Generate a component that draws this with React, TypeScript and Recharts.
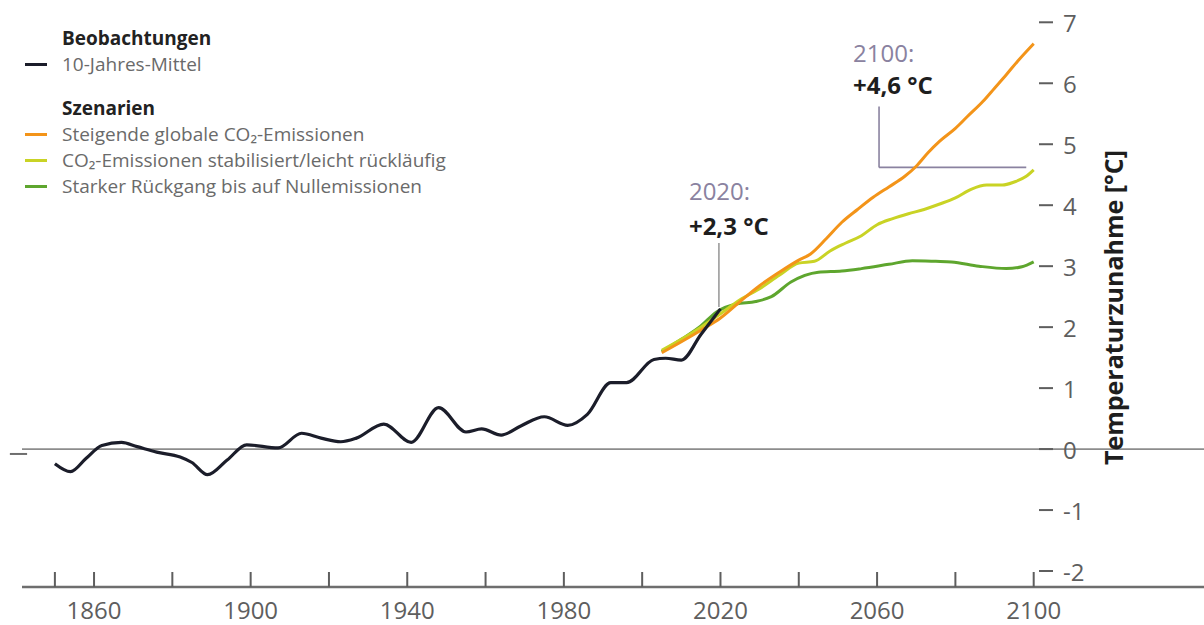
import React from "react";
import { LineChart, Line, XAxis, YAxis, ReferenceLine, Legend } from "recharts";

// Beobachtungen, 10-Jahres-Mittel (Abweichung in °C)
const obsYears = [
  1850, 1854, 1858, 1862, 1867, 1871, 1876, 1882, 1885, 1889, 1894, 1899,
  1907, 1913, 1918, 1923, 1927, 1934, 1941, 1948, 1955, 1959, 1964, 1969,
  1975, 1981, 1986, 1992, 1996, 2003, 2006, 2010, 2015, 2020,
];
const obsValues = [
  -0.24, -0.37, -0.15, 0.06, 0.11, 0.04, -0.05, -0.13, -0.22, -0.42, -0.18, 0.07,
  0.02, 0.26, 0.18, 0.12, 0.18, 0.41, 0.11, 0.68, 0.28, 0.33, 0.23, 0.38,
  0.53, 0.39, 0.57, 1.09, 1.09, 1.47, 1.49, 1.46, 1.88, 2.3,
];

// Szenarien
const highYears = [
  2005, 2010, 2015, 2020, 2025, 2030, 2035, 2040, 2043, 2047, 2051, 2055, 2059,
  2063, 2067, 2070, 2073, 2076, 2080, 2083, 2087, 2090, 2093, 2096, 2100,
];
const highValues = [
  1.58, 1.76, 1.95, 2.15, 2.42, 2.68, 2.9, 3.1, 3.2, 3.45, 3.72, 3.93, 4.13,
  4.3, 4.47, 4.64, 4.86, 5.05, 5.26, 5.45, 5.7, 5.92, 6.14, 6.37, 6.65,
];

const stableYears = [
  2005, 2010, 2015, 2020, 2025, 2030, 2035, 2040, 2044, 2048, 2052, 2056, 2060,
  2064, 2068, 2072, 2076, 2080, 2084, 2088, 2092, 2095, 2098, 2100,
];
const stableValues = [
  1.62, 1.8, 2.0, 2.22, 2.45, 2.63, 2.85, 3.05, 3.08, 3.25, 3.38, 3.5, 3.68,
  3.78, 3.86, 3.93, 4.02, 4.12, 4.26, 4.33, 4.33, 4.38, 4.47, 4.58,
];

const zeroYears = [
  2005, 2010, 2015, 2019, 2024, 2029, 2033, 2038, 2045, 2051, 2056, 2063, 2069,
  2075, 2079, 2086, 2093, 2097, 2100,
];
const zeroValues = [
  1.6, 1.8, 2.02, 2.25, 2.38, 2.42, 2.5, 2.74, 2.9, 2.92, 2.96, 3.03, 3.09,
  3.08, 3.07, 3.0, 2.96, 2.99, 3.07,
];

const xTicks = [1850, 1860, 1880, 1900, 1920, 1940, 1960, 1980, 2000, 2020, 2040, 2060, 2080, 2100];
const xLabelYears = [1860, 1900, 1940, 1980, 2020, 2060, 2100];
const yTicks = [-2, -1, 0, 1, 2, 3, 4, 5, 6, 7];

const legendHeadings = ["Beobachtungen", "Szenarien"];
const legendLabels = [
  "10-Jahres-Mittel",
  "Steigende globale CO₂-Emissionen",
  "CO₂-Emissionen stabilisiert/leicht rückläufig",
  "Starker Rückgang bis auf Nullemissionen",
];

const X_MIN = 1841.6;
const X_MAX = 2101.1;
const X_FAR = 2144.5;
const Y_MIN = -2.262;
const Y_MAX = 7.3;

const FONT = "'Open Sans', sans-serif";
const COLORS = {
  obs: "#1b1d2a",
  high: "#f39419",
  stable: "#c9d325",
  zero: "#5ea62e",
  tick: "#5e5e5e",
  callout: "#8a82a0",
};

const toPoints = (years: number[], values: number[]) =>
  years.map((year, i) => ({ year, value: values[i] }));

const observations = toPoints(obsYears, obsValues);
const highScenario = toPoints(highYears, highValues);
const stableScenario = toPoints(stableYears, stableValues);
const zeroScenario = toPoints(zeroYears, zeroValues);

function XTick({ x, y, payload }: any) {
  const year = payload.value;
  return (
    <g>
      <line x1={x} x2={x} y1={y - 15} y2={y} stroke={COLORS.tick} strokeWidth={2} />
      {xLabelYears.includes(year) && (
        <text
          x={x}
          y={y + 22}
          textAnchor="middle"
          dominantBaseline="central"
          fontSize={24}
          fontFamily={FONT}
          fill={COLORS.tick}
        >
          {year}
        </text>
      )}
    </g>
  );
}

function YTick({ x, y, payload }: any) {
  return (
    <g>
      <line x1={x + 1} x2={x + 15} y1={y} y2={y} stroke={COLORS.tick} strokeWidth={2} />
      <text
        x={x + 25}
        y={y}
        dominantBaseline="central"
        fontSize={24}
        fontFamily={FONT}
        fill={COLORS.tick}
      >
        {payload.value}
      </text>
    </g>
  );
}

function YLabel({ viewBox }: any) {
  const cx = viewBox.x + 75;
  const cy = viewBox.y + viewBox.height / 2 + 12;
  return (
    <text
      x={cx}
      y={cy}
      transform={`rotate(-90, ${cx}, ${cy})`}
      textAnchor="middle"
      dominantBaseline="central"
      fontSize={25}
      fontWeight={700}
      fontFamily={FONT}
      fill="#1e1e1e"
    >
      Temperaturzunahme [°C]
    </text>
  );
}

function Callout({ viewBox, title, value, dx, dy, gap }: any) {
  const x = viewBox.x + dx;
  const y = viewBox.y + dy;
  return (
    <g fontFamily={FONT}>
      <text x={x} y={y} dominantBaseline="central" fontSize={24} fill={COLORS.callout}>
        {title}
      </text>
      <text x={x} y={y + gap} dominantBaseline="central" fontSize={24} fontWeight={700} fill="#1e1e1e">
        {value}
      </text>
    </g>
  );
}

function LegendBox() {
  const heading = (text: string, top: number) => (
    <div
      key={text}
      style={{
        position: "absolute",
        left: 62,
        top: top - 13,
        lineHeight: "26px",
        fontSize: 19,
        fontWeight: 700,
        color: "#222",
        whiteSpace: "nowrap",
      }}
    >
      {text}
    </div>
  );
  const item = (text: string, color: string, top: number) => (
    <div key={text}>
      <div
        style={{
          position: "absolute",
          left: 25,
          top: top - 1.5,
          width: 22,
          height: 3,
          background: color,
        }}
      />
      <div
        style={{
          position: "absolute",
          left: 62,
          top: top - 13,
          lineHeight: "26px",
          fontSize: 19,
          color: "#6a6a6a",
          whiteSpace: "nowrap",
        }}
      >
        {text}
      </div>
    </div>
  );
  return (
    <div style={{ position: "relative", width: 480, height: 200, fontFamily: FONT }}>
      {heading(legendHeadings[0], 38)}
      {item(legendLabels[0], COLORS.obs, 64)}
      {heading(legendHeadings[1], 108)}
      {item(legendLabels[1], COLORS.high, 134)}
      {item(legendLabels[2], COLORS.stable, 160)}
      {item(legendLabels[3], COLORS.zero, 186)}
    </div>
  );
}

export default function App() {
  return (
    <div style={{ position: "absolute", left: 0, top: 0, background: "#fff" }}>
      <LineChart
        width={1204}
        height={625}
        margin={{ top: 4, right: 0, bottom: 0, left: 22 }}
        style={{ fontFamily: FONT }}
      >
        <XAxis
          type="number"
          dataKey="year"
          domain={[X_MIN, X_MAX]}
          ticks={xTicks}
          interval={0}
          allowDataOverflow
          axisLine={false}
          tickLine={false}
          tickSize={0}
          tickMargin={0}
          height={38}
          tick={<XTick />}
        />
        <YAxis
          type="number"
          orientation="right"
          domain={[Y_MIN, Y_MAX]}
          ticks={yTicks}
          interval={0}
          allowDataOverflow
          axisLine={false}
          tickLine={false}
          tickSize={0}
          tickMargin={0}
          width={166}
          tick={<YTick />}
          label={<YLabel />}
        />
        <Legend
          layout="vertical"
          align="center"
          verticalAlign="middle"
          content={() => <LegendBox />}
          wrapperStyle={{ position: "absolute", left: 0, top: 0, width: 480, height: 200 }}
        />
        {/* kleiner Strich links an der Nulllinie */}
        <ReferenceLine
          segment={[{ x: 1838.5, y: -0.08 }, { x: 1842.9, y: -0.08 }]}
          ifOverflow="visible"
          stroke="#6e6e6e"
          strokeWidth={2}
        />
        <ReferenceLine
          segment={[{ x: X_MIN, y: 0 }, { x: X_FAR, y: 0 }]}
          ifOverflow="visible"
          stroke="#8c8c8c"
          strokeWidth={1.8}
        />
        <ReferenceLine
          segment={[{ x: X_MIN, y: Y_MIN }, { x: X_FAR, y: Y_MIN }]}
          ifOverflow="visible"
          stroke="#6e6e6e"
          strokeWidth={2.4}
        />
        <ReferenceLine
          segment={[{ x: 2019.6, y: 2.33 }, { x: 2019.6, y: 3.38 }]}
          ifOverflow="visible"
          stroke="#9b9b9b"
          strokeWidth={1.6}
          label={<Callout title="2020:" value="+2,3 °C" dx={-30} dy={-53} gap={35} />}
        />
        <ReferenceLine
          segment={[{ x: 2060.5, y: 4.62 }, { x: 2060.5, y: 5.62 }]}
          ifOverflow="visible"
          stroke={COLORS.callout}
          strokeWidth={1.6}
          label={<Callout title="2100:" value="+4,6 °C" dx={-26} dy={-54} gap={32} />}
        />
        <ReferenceLine
          segment={[{ x: 2060.5, y: 4.62 }, { x: 2098.1, y: 4.62 }]}
          ifOverflow="visible"
          stroke={COLORS.callout}
          strokeWidth={1.6}
        />
        <Line
          data={zeroScenario}
          dataKey="value"
          type="monotone"
          stroke={COLORS.zero}
          strokeWidth={3}
          dot={false}
          isAnimationActive={false}
        />
        <Line
          data={stableScenario}
          dataKey="value"
          type="monotone"
          stroke={COLORS.stable}
          strokeWidth={3}
          dot={false}
          isAnimationActive={false}
        />
        <Line
          data={highScenario}
          dataKey="value"
          type="monotone"
          stroke={COLORS.high}
          strokeWidth={3}
          dot={false}
          isAnimationActive={false}
        />
        <Line
          data={observations}
          dataKey="value"
          type="monotone"
          stroke={COLORS.obs}
          strokeWidth={3.2}
          dot={false}
          isAnimationActive={false}
        />
      </LineChart>
    </div>
  );
}
